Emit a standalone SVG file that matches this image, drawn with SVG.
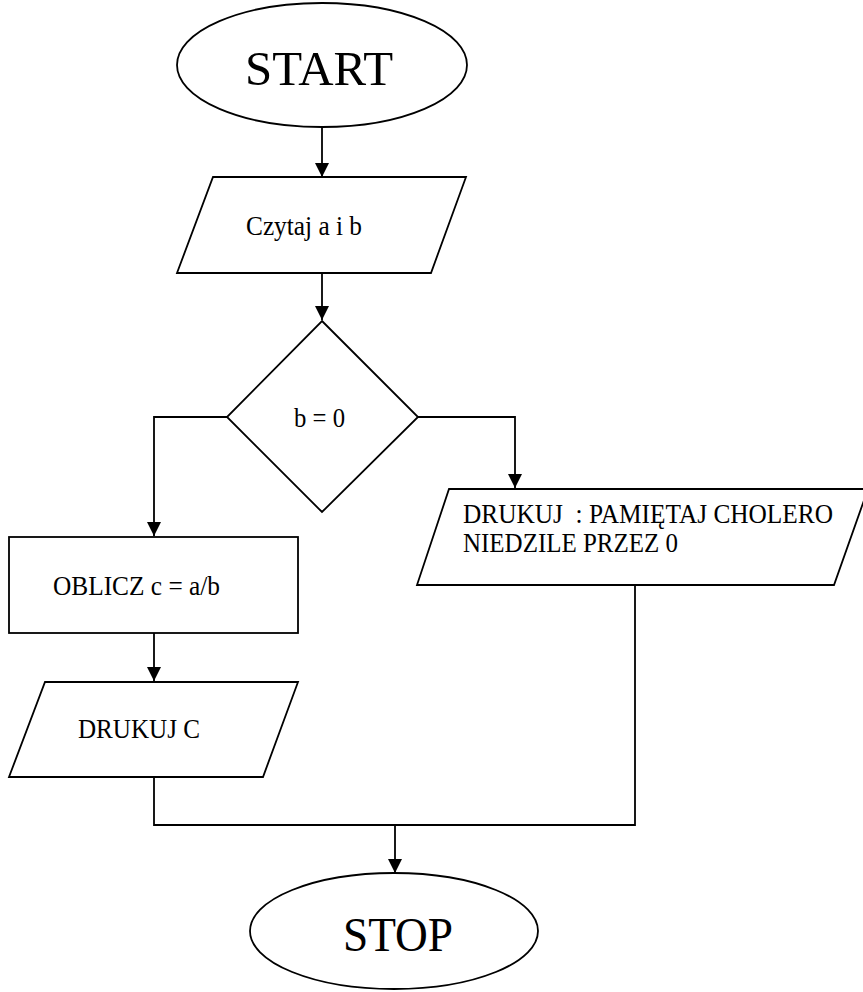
<svg xmlns="http://www.w3.org/2000/svg" width="863" height="992" viewBox="0 0 863 992">
  <style>
    .shape { fill: #ffffff; stroke: #000000; stroke-width: 1.8; }
    .line { fill: none; stroke: #000000; stroke-width: 1.8; }
    .label { font-family: "Liberation Serif", "Times New Roman", serif; font-size: 27px; fill: #000000; }
    .big { font-family: "Liberation Serif", "Times New Roman", serif; font-size: 48px; fill: #000000; }
  </style>
  <defs>
    <marker id="arrow" markerUnits="userSpaceOnUse" markerWidth="14" markerHeight="16" refX="14" refY="7" orient="auto">
      <path d="M0,0 L14,7 L0,14 Z" fill="#000000"/>
    </marker>
  </defs>
  <rect width="863" height="992" fill="#ffffff"/>

  <g id="connectors">
    <path class="line" d="M322,128 L322,177" marker-end="url(#arrow)"/>
    <path class="line" d="M322,273 L322,320" marker-end="url(#arrow)"/>
    <path class="line" d="M227,417 L154,417 L154,536" marker-end="url(#arrow)"/>
    <path class="line" d="M418,417 L515,417 L515,488" marker-end="url(#arrow)"/>
    <path class="line" d="M154,633 L154,681" marker-end="url(#arrow)"/>
    <path class="line" d="M154,777 L154,825 L635,825 L635,585"/>
    <path class="line" d="M395,825 L395,873" marker-end="url(#arrow)"/>
  </g>

  <g id="start">
    <ellipse class="shape" cx="322" cy="65" rx="145" ry="62"/>
    <text class="big" x="245" y="85" textLength="148" lengthAdjust="spacingAndGlyphs">START</text>
  </g>

  <g id="read">
    <polygon class="shape" points="213,177 466,177 431,273 177,273"/>
    <text class="label" x="246" y="235" textLength="116" lengthAdjust="spacingAndGlyphs">Czytaj a i b</text>
  </g>

  <g id="decision">
    <polygon class="shape" points="322,321 418,417 322,512 227,417"/>
    <text class="label" x="294" y="427" textLength="51" lengthAdjust="spacingAndGlyphs">b = 0</text>
  </g>

  <g id="compute">
    <rect class="shape" x="9" y="537" width="289" height="96"/>
    <text class="label" x="53" y="595" textLength="167" lengthAdjust="spacingAndGlyphs">OBLICZ c = a/b</text>
  </g>

  <g id="print-c">
    <polygon class="shape" points="45,682 298,682 263,777 9,777"/>
    <text class="label" x="78" y="738" textLength="122" lengthAdjust="spacingAndGlyphs">DRUKUJ C</text>
  </g>

  <g id="print-error">
    <polygon class="shape" points="449,489 868,489 834,585 417,585"/>
    <text class="label" x="463" y="523" textLength="370" lengthAdjust="spacingAndGlyphs">DRUKUJ &#160;: PAMIĘTAJ CHOLERO</text>
    <text class="label" x="463" y="552" textLength="215" lengthAdjust="spacingAndGlyphs">NIEDZILE PRZEZ 0</text>
  </g>

  <g id="stop">
    <ellipse class="shape" cx="394" cy="931" rx="144" ry="58"/>
    <text class="big" x="343" y="951" textLength="110" lengthAdjust="spacingAndGlyphs">STOP</text>
  </g>
</svg>
